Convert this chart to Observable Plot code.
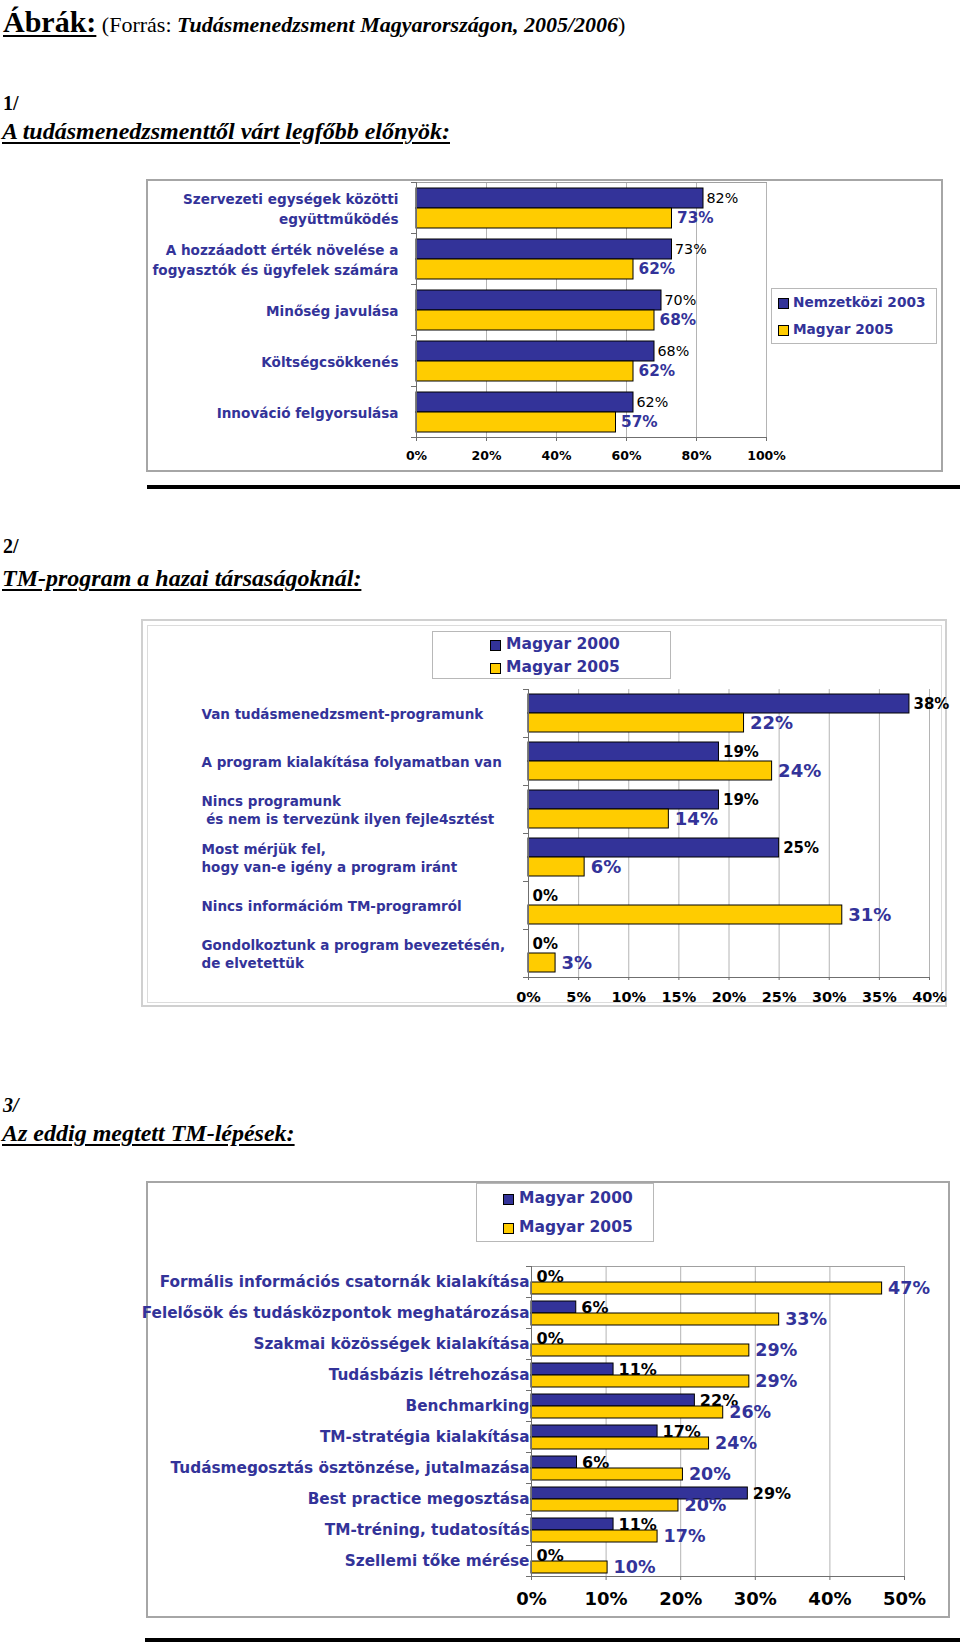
<!DOCTYPE html>
<html>
<head>
<meta charset="utf-8">
<script src="https://cdn.jsdelivr.net/npm/d3@7"></script>
<script src="https://cdn.jsdelivr.net/npm/@observablehq/plot@0.6"></script>
<style>
  body { margin: 0; background: #fff; }
  #page { position: relative; width: 960px; height: 1642px; overflow: hidden; background: #fff; }
  .abs { position: absolute; white-space: nowrap; }
  .serif { font-family: "Liberation Serif", "Times New Roman", serif; color: #000; line-height: 1; }
  .u { text-decoration: underline; text-decoration-thickness: 2px; text-underline-offset: 3px; }
  .box { position: absolute; box-sizing: border-box; }
  .legend { position: absolute; box-sizing: border-box; border: 1px solid #b8b8b8; background: #fff;
            font-family: "DejaVu Sans", Verdana, sans-serif; font-weight: bold; color: #333399; }
  .legend .sw { position: absolute; width: 9px; height: 9px; border: 1px solid #000; }
  .legend .tx { position: absolute; white-space: nowrap; line-height: 1; }
  .chart { position: absolute; }
  .rule { position: absolute; background: #000; }
</style>
</head>
<body>
<div id="page">
  <div class="abs serif" style="left:3px;top:7px;font-size:30px;">
    <span class="u" style="font-weight:bold;">Ábrák:</span><span style="font-size:22px;"> (Forrás: <b><i>Tudásmenedzsment Magyarországon, 2005/2006</i></b>)</span>
  </div>
  <div class="abs serif" style="left:3px;top:93px;font-size:20px;font-weight:bold;">1/</div>
  <div class="abs serif u" style="left:2px;top:119px;font-size:24px;font-weight:bold;font-style:italic;">A tudásmenedzsmenttől várt legfőbb előnyök:</div>

  <div class="box" style="left:146px;top:179px;width:797px;height:293px;border:2px solid #a6a6a6;"></div>
  <div class="rule" style="left:147px;top:485px;width:813px;height:4px;"></div>

  <div class="abs serif" style="left:3px;top:536px;font-size:20px;font-weight:bold;">2/</div>
  <div class="abs serif u" style="left:2px;top:566px;font-size:24px;font-style:italic;font-weight:bold;">TM-program a hazai társaságoknál:</div>

  <div class="box" style="left:141px;top:619px;width:806px;height:388px;border:2px solid #d0d0d0;"></div>
  <div class="box" style="left:147px;top:625px;width:795px;height:378px;border:1px solid #dcdcdc;"></div>

  <div class="abs serif" style="left:3px;top:1095px;font-size:20px;font-weight:bold;font-style:italic;">3/</div>
  <div class="abs serif u" style="left:2px;top:1121px;font-size:24px;font-style:italic;font-weight:bold;">Az eddig megtett TM-lépések:</div>

  <div class="box" style="left:146px;top:1181px;width:804px;height:437px;border:2px solid #a6a6a6;"></div>
  <div class="rule" style="left:145px;top:1638px;width:815px;height:4px;"></div>
</div>
<script>
// ---------- DATA ----------
// Chart 1
const cats1 = [
  "Szervezeti egységek közötti\negyüttműködés",
  "A hozzáadott érték növelése a\nfogyasztók és ügyfelek számára",
  "Minőség javulása",
  "Költségcsökkenés",
  "Innováció felgyorsulása"
];
const series1 = ["Nemzetközi 2003", "Magyar 2005"];
const nemzetkozi2003 = [82, 73, 70, 68, 62];
const magyar2005_1 = [73, 62, 68, 62, 57];
const ticks1 = [0, 20, 40, 60, 80, 100];

// Chart 2
const cats2 = [
  "Van tudásmenedzsment-programunk",
  "A program kialakítása folyamatban van",
  "Nincs programunk\n és nem is tervezünk ilyen fejle4sztést",
  "Most mérjük fel,\nhogy van-e igény a program iránt",
  "Nincs információm TM-programról",
  "Gondolkoztunk a program bevezetésén,\nde elvetettük"
];
const series2 = ["Magyar 2000", "Magyar 2005"];
const magyar2000_2 = [38, 19, 19, 25, 0, 0];
const magyar2005_2 = [21.5, 24.3, 14, 5.6, 31.3, 2.7];
const ticks2 = [0, 5, 10, 15, 20, 25, 30, 35, 40];

// Chart 3
const cats3 = [
  "Formális információs csatornák kialakítása",
  "Felelősök és tudásközpontok meghatározása",
  "Szakmai közösségek kialakítása",
  "Tudásbázis létrehozása",
  "Benchmarking",
  "TM-stratégia kialakítása",
  "Tudásmegosztás ösztönzése, jutalmazása",
  "Best practice megosztása",
  "TM-tréning, tudatosítás",
  "Szellemi tőke mérése"
];
const series3 = ["Magyar 2000", "Magyar 2005"];
const magyar2000_3 = [0, 6, 0, 11, 21.9, 16.9, 6.1, 29, 11, 0];
const magyar2005_3 = [47, 33.2, 29.2, 29.2, 25.7, 23.8, 20.3, 19.7, 16.9, 10.2];
const ticks3 = [0, 10, 20, 30, 40, 50];

const NAVY = "#333399";
const YELLOW = "#FFCC00";
const SANS = "'DejaVu Sans', Verdana, sans-serif";

function grouped(cfg) {
  const rows = cfg.cats.flatMap((c, i) => [
    {cat: c, series: cfg.series[0], value: cfg.v0[i]},
    {cat: c, series: cfg.series[1], value: cfg.v1[i]}
  ]);
  const band = (cfg.height - cfg.mT - cfg.mB) / cfg.cats.length;
  const inset = (band - cfg.barsPx) / 2;
  const plotW = cfg.width - cfg.mL - cfg.mR;
  const marks = [
    Plot.gridX(cfg.ticks.filter(t => t > 0), {stroke: "#b4b4b4", strokeOpacity: 1})
  ];
  if (cfg.topFrame) marks.push(Plot.frame({anchor: "top", facetAnchor: "top", stroke: "#a0a0a0"}));
  marks.push(
    Plot.barX(rows.filter(d => d.value > 0), {fy: "cat", y: "series", x: "value", fill: "series", stroke: "#000", strokeWidth: 1}),
    Plot.ruleX([0], {stroke: "#6f6f6f", strokeWidth: 1}),
    // small category-boundary ticks on the left axis
    Plot.frame({anchor: "top", insetLeft: -5, insetRight: plotW, stroke: "#6f6f6f"}),
    Plot.frame({anchor: "bottom", facetAnchor: "bottom", insetLeft: -5, stroke: "#6f6f6f"}),
    Plot.axisX({ticks: cfg.ticks, tickFormat: d => d + "%", tickSize: cfg.tickSize, tickPadding: cfg.tickPad,
                fontSize: cfg.tickFont, fontWeight: "bold", color: "#000", stroke: "#6f6f6f", label: null}),
    Plot.text(cfg.cats, {fy: d => d, text: d => d, frameAnchor: "left", textAnchor: cfg.catAnchor, dx: cfg.catDx,
                         fontSize: cfg.catFont, fontWeight: "bold", fill: NAVY, lineHeight: cfg.catLH}),
    Plot.text(rows.filter(d => d.series === cfg.series[0]), {fy: "cat", y: "series", x: "value",
      text: d => Math.round(d.value) + "%", textAnchor: "start", dx: cfg.l0.dx, fontSize: cfg.l0.size,
      fontWeight: cfg.l0.weight, fill: "#000"}),
    Plot.text(rows.filter(d => d.series === cfg.series[1]), {fy: "cat", y: "series", x: "value",
      text: d => Math.round(d.value) + "%", textAnchor: "start", dx: cfg.l1.dx, fontSize: cfg.l1.size,
      fontWeight: "bold", fill: NAVY})
  );
  const svg = Plot.plot({
    width: cfg.width, height: cfg.height,
    marginLeft: cfg.mL, marginRight: cfg.mR, marginTop: cfg.mT, marginBottom: cfg.mB,
    style: {fontFamily: SANS, background: "transparent", overflow: "visible"},
    x: {domain: [0, cfg.max], label: null},
    y: {domain: cfg.series, padding: 0, insetTop: inset, insetBottom: inset, axis: null},
    fy: {domain: cfg.cats, padding: 0, axis: null},
    color: {domain: cfg.series, range: [NAVY, YELLOW]},
    marks
  });
  const wrap = document.createElement("div");
  wrap.className = "chart";
  wrap.style.left = cfg.left + "px";
  wrap.style.top = cfg.top + "px";
  wrap.appendChild(svg);
  document.getElementById("page").appendChild(wrap);

  // legend
  const lg = cfg.legend;
  const box = document.createElement("div");
  box.className = "legend";
  Object.assign(box.style, {left: lg.left + "px", top: lg.top + "px", width: lg.w + "px", height: lg.h + "px", fontSize: lg.font + "px"});
  cfg.series.forEach((s, i) => {
    const sw = document.createElement("div");
    sw.className = "sw";
    Object.assign(sw.style, {left: lg.swX + "px", top: (lg.cy[i] - 5.5) + "px", background: i === 0 ? NAVY : YELLOW});
    const tx = document.createElement("div");
    tx.className = "tx";
    tx.textContent = s;
    Object.assign(tx.style, {left: lg.txX + "px", top: (lg.cy[i] - lg.font / 2) + "px"});
    box.appendChild(sw); box.appendChild(tx);
  });
  document.getElementById("page").appendChild(box);
}

grouped({
  cats: cats1, series: series1, v0: nemzetkozi2003, v1: magyar2005_1, max: 100, ticks: ticks1,
  left: 146, top: 179, width: 797, height: 293, mL: 270, mR: 177, mT: 1, mB: 34, barsPx: 41,
  topFrame: true, tickSize: 4, tickPad: 10, tickFont: 12.5,
  catAnchor: "end", catDx: -18, catFont: 13.6, catLH: 1.46,
  l0: {dx: 3, size: 14.3, weight: "normal"}, l1: {dx: 5, size: 15.3},
  legend: {left: 771, top: 288, w: 166, h: 56, font: 13.7, swX: 6, txX: 21, cy: [14, 41]}
});

grouped({
  cats: cats2, series: series2, v0: magyar2000_2, v1: magyar2005_2, max: 40, ticks: ticks2,
  left: 141, top: 619, width: 806, height: 388, mL: 387, mR: 18, mT: 69, mB: 29, barsPx: 39,
  topFrame: false, tickSize: 3, tickPad: 11, tickFont: 14.5,
  catAnchor: "start", catDx: -327, catFont: 13.5, catLH: 1.35,
  l0: {dx: 4, size: 15, weight: "bold"}, l1: {dx: 6, size: 18},
  legend: {left: 432, top: 631, w: 239, h: 48, font: 15.5, swX: 57, txX: 73, cy: [13, 36]}
});

grouped({
  cats: cats3, series: series3, v0: magyar2000_3, v1: magyar2005_3, max: 50, ticks: ticks3,
  left: 146, top: 1181, width: 804, height: 437, mL: 385, mR: 46, mT: 81, mB: 38, barsPx: 26,
  topFrame: true, tickSize: 4, tickPad: 12, tickFont: 18,
  catAnchor: "end", catDx: -2, catFont: 15.3, catLH: 1,
  l0: {dx: 5, size: 16, weight: "bold"}, l1: {dx: 6, size: 17.5},
  legend: {left: 476, top: 1183, w: 178, h: 59, font: 15.5, swX: 26, txX: 42, cy: [15, 44]}
});
</script>
</body>
</html>
